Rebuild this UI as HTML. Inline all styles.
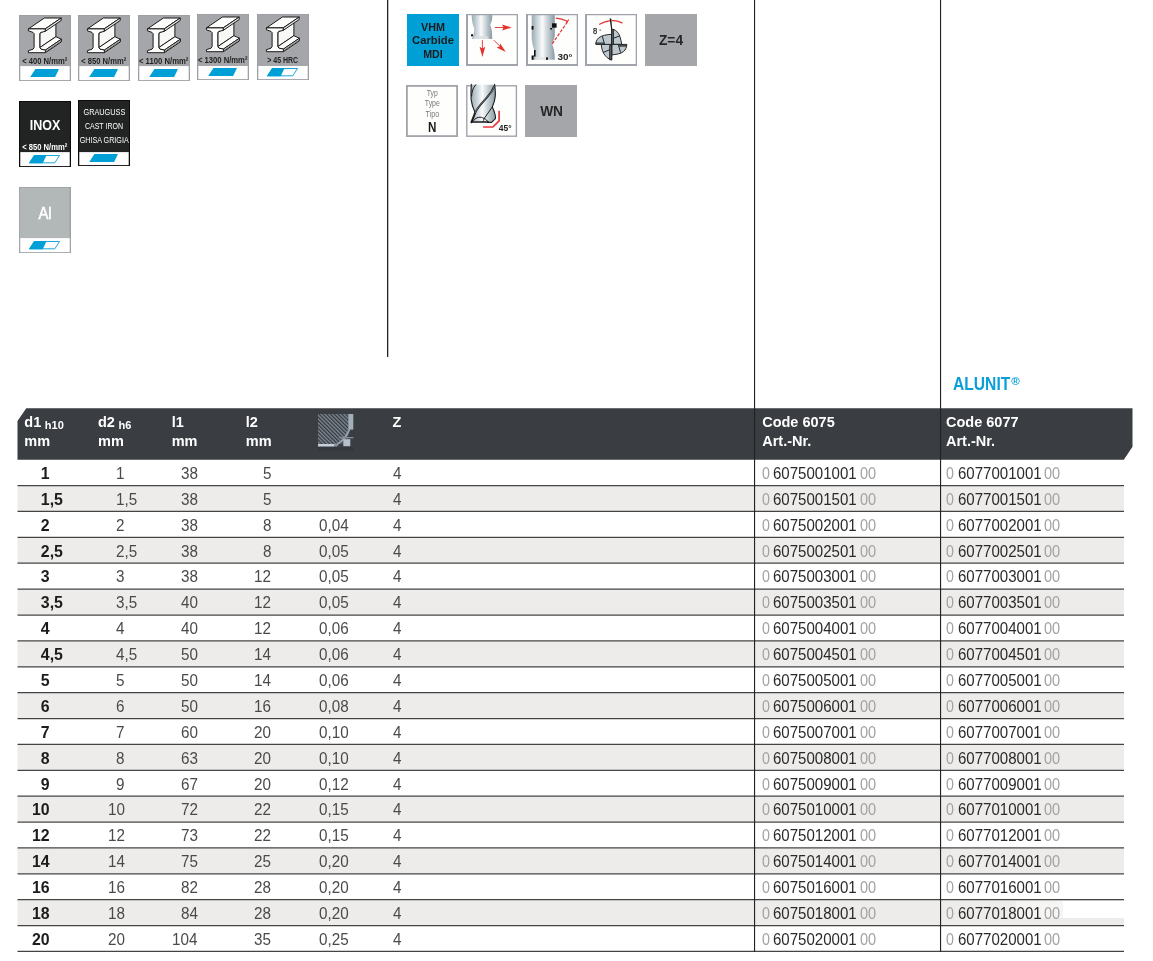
<!DOCTYPE html>
<html lang="de"><head><meta charset="utf-8"><title>Code 6075 / 6077</title>
<style>
html,body{margin:0;padding:0;background:#fff}
body{width:1153px;height:961px;position:relative;overflow:hidden;font-family:"Liberation Sans",sans-serif;color:#222}
.a{position:absolute}
svg{position:absolute;overflow:visible}
svg text{font-family:"Liberation Sans",sans-serif}
.t{position:absolute;white-space:nowrap;transform-origin:0 50%}
.vl{position:absolute;background:#222;width:1.3px}
.row{position:absolute;left:17.6px;width:1106.4px;height:25.88px}
.row.alt{background:#edecea}
.hl{position:absolute;left:17.6px;width:1106.4px;height:1.2px;background:#484848}
.b{font-weight:bold;color:#1c1c1c}
.l{color:#4a4a4a}
.g{color:#a2a2a2}
.k{color:#2a2a2a}
</style></head><body>

<svg width="0" height="0" style="left:0;top:0"><defs>
<linearGradient id="cyl" x1="0" x2="1" y1="0" y2="0">
<stop offset="0" stop-color="#9aabb4"/><stop offset="0.2" stop-color="#c3ced4"/><stop offset="0.46" stop-color="#fafbfb"/><stop offset="0.64" stop-color="#d2dade"/><stop offset="1" stop-color="#889aa3"/>
</linearGradient>
<g id="ibeam" stroke="#1b1b1b" stroke-width="1" stroke-linejoin="round">
<polygon points="20.8,18.6 36.9,7.7 36.9,21.7 20.8,32.6" fill="#f8f8f6"/>
<polygon points="20.8,32.6 36.9,21.7 42.4,24.2 26.4,35.1 22.1,34.2" fill="#fdfdfc"/>
<polygon points="26.4,35.1 42.4,24.2 42.4,26.8 26.4,37.7" fill="#e6e6e4"/>
<line x1="27" y1="36.3" x2="42" y2="26" stroke-width="0.5"/>
<polygon points="9.4,13.9 25.4,3 42.2,3 26.2,13.9" fill="#fdfdfc"/>
<polygon points="26.2,13.9 42.2,3 42.2,5.5 26.2,16.4" fill="#e6e6e4"/>
<polygon points="9.4,13.9 26.2,13.9 26.2,16.4 21.7,17.4 20.8,18.6 20.8,32.6 22.1,34.2 26.4,35.1 26.4,37.7 9.4,37.7 9.4,35.7 14,34.2 15.1,32.6 15.1,18.6 14,17.4 9.4,15.8" fill="#fdfdfc"/>
</g>
</defs></svg>

<svg style="left:19px;top:14.7px" width="52" height="66" viewBox="0 0 52 66">
<rect x="0" y="0" width="52" height="66" fill="#a5a6aa"/>
<rect x="0.3" y="0.3" width="51.4" height="65.4" fill="none" stroke="#9b9da2" stroke-width="0.6"/>
<rect x="1.3" y="51.1" width="49.4" height="14.00" fill="#fefefe"/>
<use href="#ibeam"/>
<text x="25.7" y="48.7" font-size="9" font-weight="bold" fill="#222" text-anchor="middle" textLength="45" lengthAdjust="spacingAndGlyphs">&lt; 400 N/mm²</text>
<polygon points="16.4,54.1 40.0,54.1 36.1,61.9 11.2,61.9" fill="#009fd6"/>
</svg>
<svg style="left:78px;top:14.7px" width="52" height="66" viewBox="0 0 52 66">
<rect x="0" y="0" width="52" height="66" fill="#a5a6aa"/>
<rect x="0.3" y="0.3" width="51.4" height="65.4" fill="none" stroke="#9b9da2" stroke-width="0.6"/>
<rect x="1.3" y="51.1" width="49.4" height="14.00" fill="#fefefe"/>
<use href="#ibeam"/>
<text x="25.7" y="48.7" font-size="9" font-weight="bold" fill="#222" text-anchor="middle" textLength="45" lengthAdjust="spacingAndGlyphs">&lt; 850 N/mm²</text>
<polygon points="16.4,54.1 40.0,54.1 36.1,61.9 11.2,61.9" fill="#009fd6"/>
</svg>
<svg style="left:138px;top:14.7px" width="52" height="66" viewBox="0 0 52 66">
<rect x="0" y="0" width="52" height="66" fill="#a5a6aa"/>
<rect x="0.3" y="0.3" width="51.4" height="65.4" fill="none" stroke="#9b9da2" stroke-width="0.6"/>
<rect x="1.3" y="51.1" width="49.4" height="14.00" fill="#fefefe"/>
<use href="#ibeam"/>
<text x="25.7" y="48.7" font-size="9" font-weight="bold" fill="#222" text-anchor="middle" textLength="49.5" lengthAdjust="spacingAndGlyphs">&lt; 1100 N/mm²</text>
<polygon points="16.4,54.1 40.0,54.1 36.1,61.9 11.2,61.9" fill="#009fd6"/>
</svg>
<svg style="left:197px;top:13.7px" width="52" height="66" viewBox="0 0 52 66">
<rect x="0" y="0" width="52" height="66" fill="#a5a6aa"/>
<rect x="0.3" y="0.3" width="51.4" height="65.4" fill="none" stroke="#9b9da2" stroke-width="0.6"/>
<rect x="1.3" y="52" width="49.4" height="13.10" fill="#fefefe"/>
<use href="#ibeam"/>
<text x="25.7" y="48.7" font-size="9" font-weight="bold" fill="#222" text-anchor="middle" textLength="49.5" lengthAdjust="spacingAndGlyphs">&lt; 1300 N/mm²</text>
<polygon points="16.4,54.1 40.0,54.1 36.1,61.9 11.2,61.9" fill="#009fd6"/>
</svg>
<svg style="left:257px;top:13.7px" width="52" height="66" viewBox="0 0 52 66">
<rect x="0" y="0" width="52" height="66" fill="#a5a6aa"/>
<rect x="0.3" y="0.3" width="51.4" height="65.4" fill="none" stroke="#9b9da2" stroke-width="0.6"/>
<rect x="1.3" y="52" width="49.4" height="13.10" fill="#fefefe"/>
<use href="#ibeam"/>
<text x="25.7" y="48.7" font-size="9" font-weight="bold" fill="#222" text-anchor="middle" textLength="31" lengthAdjust="spacingAndGlyphs">&gt; 45 HRC</text>
<polygon points="15.5,54.5 40.5,54.5 35.800000000000004,61.800000000000004 10.5,61.800000000000004" fill="#fff" stroke="#009fd6" stroke-width="0.9"/><polygon points="15.1,54.1 27.6,54.1 23.7,62.2 9.9,62.2" fill="#009fd6"/>
</svg>
<svg style="left:19px;top:100.7px" width="52" height="66" viewBox="0 0 52 66">
<rect x="0" y="0" width="52" height="66" fill="#222424"/>
<rect x="0.5" y="0.5" width="51.0" height="65.0" fill="none" stroke="#0b0b0b" stroke-width="1.0"/>
<rect x="1.3" y="51.1" width="49.4" height="14.00" fill="#fefefe"/>
<text x="26" y="28.7" font-size="14" font-weight="bold" fill="#fff" text-anchor="middle" textLength="30.5" lengthAdjust="spacingAndGlyphs">INOX</text>
<text x="25.7" y="48.7" font-size="9" font-weight="bold" fill="#fff" text-anchor="middle" textLength="45" lengthAdjust="spacingAndGlyphs">&lt; 850 N/mm²</text>
<polygon points="15.5,54.5 40.5,54.5 35.800000000000004,61.800000000000004 10.5,61.800000000000004" fill="#fff" stroke="#009fd6" stroke-width="0.9"/><polygon points="15.1,54.1 27.6,54.1 23.7,62.2 9.9,62.2" fill="#009fd6"/>
</svg>
<svg style="left:78px;top:99.7px" width="52" height="66" viewBox="0 0 52 66">
<rect x="0" y="0" width="52" height="66" fill="#222424"/>
<rect x="0.5" y="0.5" width="51.0" height="65.0" fill="none" stroke="#0b0b0b" stroke-width="1.0"/>
<rect x="1.3" y="52.1" width="49.4" height="13.00" fill="#fefefe"/>
<text x="26.4" y="15.1" font-size="9.3" fill="#fff" text-anchor="middle" textLength="41.7" lengthAdjust="spacingAndGlyphs">GRAUGUSS</text>
<text x="26" y="28.7" font-size="9.3" fill="#fff" text-anchor="middle" textLength="38.2" lengthAdjust="spacingAndGlyphs">CAST IRON</text>
<text x="26.2" y="42.5" font-size="9.3" fill="#fff" text-anchor="middle" textLength="48.9" lengthAdjust="spacingAndGlyphs">GHISA GRIGIA</text>
<polygon points="16.4,54.1 40.0,54.1 36.1,61.9 11.2,61.9" fill="#009fd6"/>
</svg>
<svg style="left:19px;top:187px" width="52" height="66" viewBox="0 0 52 66">
<rect x="0" y="0" width="52" height="66" fill="#b2b7b7"/>
<rect x="0.3" y="0.3" width="51.4" height="65.4" fill="none" stroke="#9a9da1" stroke-width="0.6"/>
<rect x="50.5" y="0" width="1.5" height="66" fill="#a0a2a6"/>
<rect x="1.3" y="51.1" width="49.4" height="14.00" fill="#fefefe"/>
<text x="26" y="31.6" font-size="16.4" fill="#fff" text-anchor="middle" textLength="13.2" lengthAdjust="spacingAndGlyphs" stroke="#fff" stroke-width="0.55">Al</text>
<polygon points="15.5,54.5 40.5,54.5 35.800000000000004,61.800000000000004 10.5,61.800000000000004" fill="#fff" stroke="#009fd6" stroke-width="0.9"/><polygon points="15.1,54.1 27.6,54.1 23.7,62.2 9.9,62.2" fill="#009fd6"/>
</svg>
<svg style="left:407px;top:13.8px" width="52" height="52" viewBox="0 0 52 52">
<rect width="52" height="52" fill="#009fd6"/>
<text x="26" y="16.5" font-size="11.6" font-weight="bold" fill="#1b1b1b" text-anchor="middle" textLength="23.9" lengthAdjust="spacingAndGlyphs">VHM</text>
<text x="26" y="30" font-size="11.6" font-weight="bold" fill="#1b1b1b" text-anchor="middle" textLength="42" lengthAdjust="spacingAndGlyphs">Carbide</text>
<text x="26" y="43.5" font-size="11.6" font-weight="bold" fill="#1b1b1b" text-anchor="middle" textLength="19.5" lengthAdjust="spacingAndGlyphs">MDI</text>
</svg>
<svg style="left:466px;top:13.8px" width="52" height="52" viewBox="0 0 52 52">
<rect width="52" height="52" fill="#fefefd"/>
<path d="M5.7,0.8 L26.2,0.8 C26.4,5 25.8,8 24.2,10.8 C25.6,14 26.3,19 26.2,25.1 L5.9,25.1 C7.5,20 8.6,17 8.2,14.5 C6.5,10 5.6,5 5.7,0.8 Z" fill="url(#cyl)"/>
<rect x="5" y="20.3" width="2" height="2" fill="#111"/>
<path d="M9,22 h12 l2,3 h-16 z" fill="#d9dfe2" opacity="0.8"/>
<g fill="#e3312b" stroke="#e3312b">
<line x1="28.8" y1="13.5" x2="38" y2="13.5" stroke-width="0.9"/><polygon points="45.8,13.5 36,10.6 37.6,13.5 36,16.6" stroke="none"/>
<line x1="16.4" y1="26.1" x2="16.4" y2="35" stroke-width="0.9"/><polygon points="16.4,43.1 13.6,32.8 16.4,34.6 19.2,32.8" stroke="none"/>
<line x1="27.8" y1="26.1" x2="34" y2="32.3" stroke-width="0.9"/><polygon points="39.8,38.1 30.6,33.6 33.6,32.6 34.2,29.4" stroke="none"/>
</g>
<path d="M0,0 H52 V52 H0 Z M2,1.3 V50 H50.7 V1.3 Z" fill="#a0a3aa" fill-rule="evenodd"/>
</svg>
<svg style="left:526px;top:13.8px" width="52" height="52" viewBox="0 0 52 52">
<rect width="52" height="52" fill="#fefefd"/>
<path d="M5.7,0.8 L28.8,0.8 L28.8,22 C28,26 26.6,28 26.2,30 C27.8,34 28.8,39 28.8,45.8 L6.2,45.8 C7.5,43 8.8,41 9,38.5 C7,33 5.7,28 5.7,22 Z" fill="url(#cyl)"/>
<rect x="5.6" y="12" width="1.9" height="3.6" fill="#111"/>
<rect x="26" y="9.3" width="4.6" height="4.4" fill="#111"/><rect x="24.2" y="14" width="1.8" height="1.6" fill="#111"/>
<path d="M8,36 h1.6 v6.6 h-2 v3.2 h-2 v-4.4 h2.4 z" fill="#111"/><rect x="20" y="43.4" width="2" height="2.4" fill="#111"/>
<path d="M9.5,43 h10 v2.8 h-10 z" fill="#dfe5e8" opacity="0.8"/>
<line x1="26.2" y1="29.8" x2="41.5" y2="7.8" stroke="#e3312b" stroke-width="1.2" stroke-dasharray="3.2 1.5"/>
<path d="M29.8,4.1 Q36,4.6 41.3,7.2" stroke="#e3312b" stroke-width="1.2" fill="none"/><line x1="40.2" y1="8.8" x2="42.8" y2="5.6" stroke="#e3312b" stroke-width="1.1"/>
<text x="31.6" y="45.8" font-size="8.8" font-weight="bold" fill="#222" textLength="15" lengthAdjust="spacingAndGlyphs">30°</text>
<path d="M0,0 H52 V52 H0 Z M2,1.3 V50 H50.7 V1.3 Z" fill="#a0a3aa" fill-rule="evenodd"/>
</svg>
<svg style="left:585px;top:13.8px" width="52" height="52" viewBox="0 0 52 52">
<rect width="52" height="52" fill="#fefefd"/>
<g stroke="#1e1e1e" stroke-width="0.95" stroke-linejoin="round" fill="#bcc8ce">
<path d="M26.7,15.3 C30,15 33.3,18.2 34.8,22.2 C35.9,25.2 36.2,28 36.7,30.4 L26.7,30.4 Z"/>
<path d="M41.8,30.4 C41.9,33 40.6,35.6 38.6,37.5 C35.5,40 31,40.4 26.7,40.9 L26.7,30.4 Z"/>
<path d="M26.7,45.9 C23.5,45.4 20.6,42.6 18.8,39.6 C17.2,36.8 16.6,34 16.2,30.4 L26.7,30.4 Z"/>
<path d="M10.9,30.4 C10.6,28 11.8,25.6 13.8,23.8 C17,21.2 22,20.6 26.7,20.3 L26.7,30.4 Z"/>
<path d="M28.5,24.3 L34.6,21.9 M33.8,32.1 L35.5,38.6 M18,38.5 L24.6,35.8 M17.3,22.1 L19.4,29.8" fill="none"/>
<rect x="26.7" y="15.4" width="1.7" height="15" fill="#5d6b74"/>
<rect x="24.7" y="31.6" width="2" height="14.2" fill="#5d6b74"/>
<path d="M11,28.9 L19.1,28.9 L19.1,30.4 L11,30.4 Z M33.5,30.8 L41.6,30.8 L41.4,32.2 L33.5,32.2 Z" fill="#5d6b74" stroke-width="0.7"/>
</g>
<path d="M24.6,4.6 L26.3,4.6 L27.2,15.6 L26.2,15.6 Z" fill="#151515"/>
<path d="M14.6,10.2 Q20,7.4 24.6,6.9 M27.2,6.7 Q32.5,6.6 37,8.9" stroke="#e3312b" stroke-width="1.2" fill="none" stroke-linecap="round"/>
<text x="7.9" y="20" font-size="8.6" fill="#222" stroke="#222" stroke-width="0.25" textLength="4.2" lengthAdjust="spacingAndGlyphs">8</text><text x="13.9" y="18.6" font-size="6" fill="#444">°</text>
<path d="M0,0 H52 V52 H0 Z M2,1.3 V50 H50.7 V1.3 Z" fill="#a0a3aa" fill-rule="evenodd"/>
</svg>
<svg style="left:645px;top:13.8px" width="52" height="52" viewBox="0 0 52 52">
<rect width="52" height="52" fill="#a5a6aa"/>
<text x="26" y="30.9" font-size="15" font-weight="bold" fill="#262626" text-anchor="middle" textLength="24" lengthAdjust="spacingAndGlyphs">Z=4</text>
</svg>
<svg style="left:406px;top:85px" width="52" height="52" viewBox="0 0 52 52">
<rect width="52" height="52" fill="#fefefd"/>
<text x="26.3" y="10.6" font-size="8.4" fill="#777" text-anchor="middle" textLength="11" lengthAdjust="spacingAndGlyphs">Typ</text>
<text x="26.3" y="21.2" font-size="8.4" fill="#777" text-anchor="middle" textLength="15" lengthAdjust="spacingAndGlyphs">Type</text>
<text x="26.3" y="32" font-size="8.4" fill="#777" text-anchor="middle" textLength="13.6" lengthAdjust="spacingAndGlyphs">Tipo</text>
<text x="26.3" y="47" font-size="14.8" font-weight="bold" fill="#1b1b1b" text-anchor="middle" textLength="8.4" lengthAdjust="spacingAndGlyphs">N</text>
<rect x="0.9" y="0.9" width="50.2" height="50.2" fill="none" stroke="#a0a3aa" stroke-width="1.8"/>
</svg>
<svg style="left:466px;top:85px" width="51" height="52" viewBox="0 0 51 52">
<rect width="51" height="52" fill="#fefefd"/>
<rect x="0.8" y="0.8" width="49.6" height="50.4" fill="none" stroke="#a0a3aa" stroke-width="1.4"/>
<path d="M5.3,-0.2 L28.6,-0.2 C29.2,4 29.6,8 29.3,11 C29,16 27.6,19 26.3,21.9 C27.4,24 28.6,27 29.2,30 C29.6,32 29.6,33 29.4,33.6 L25.6,37.4 L5.3,37.4 L9.2,27.7 C7.2,23.5 5.6,19 5.1,14.4 C4.8,9 5,4 5.3,-0.2 Z" fill="url(#cyl)"/>
<g fill="none" stroke="#1c1c1c" stroke-linecap="round" stroke-linejoin="round">
<path d="M5.3,-0.7 C5,4 4.8,9 5.1,14.4 C5.6,19 7.2,23.5 9.2,27.7" stroke-width="1.1"/>
<path d="M9.2,27.7 L5.5,37.2" stroke-width="2"/>
<path d="M28.6,-0.7 C29.2,4 29.6,8 29.3,11 C29,16 27.6,19 26.3,21.9 C27.4,24 28.6,27 29.2,30 C29.6,32 29.6,33 29.4,33.6 L25.6,37.4 L21.5,37.4" stroke-width="1.1"/>
<path d="M28.2,1.4 C26.5,6 24,9 21.6,11.6 C19,14.6 16.5,17.4 14.4,19.8 C12,22.6 10.2,25.4 9.2,27.7" stroke-width="1.9"/>
<path d="M28.2,1.4 C26.5,6 24,9 21.6,11.6 C19,14.6 16.5,17.4 14.4,19.8 C12,22.6 10.2,25.4 9.2,27.7" stroke-width="0.7" stroke="#8b979d" stroke-dasharray="0.5 0.7"/>
<path d="M26.3,21.9 C23.6,26 20.6,30 18.1,33.6" stroke-width="1"/>
<path d="M9.8,-0.3 C8.2,1.6 7,3.6 6.4,6 C5.9,8 5.7,9.6 5.6,11" stroke-width="1"/>
<path d="M7.4,35.6 C9,33.4 11.6,32.2 14,32.2 C16.2,32.3 17.4,33 18.1,33.6 C20,34.2 21.4,35.6 22.2,37.2" stroke-width="1"/>
<path d="M17.8,33.8 C17.8,35 17.4,36.2 16.8,37" stroke-width="0.8"/>
<path d="M5.3,37.1 L22.2,37.1" stroke-width="1.5"/>
</g>
<path d="M17.1,42 L26.9,42 L33.1,35.8 L33.1,25.8" stroke="#e8383a" stroke-width="1.7" fill="none"/>
<text x="32.8" y="45.7" font-size="8.6" font-weight="bold" fill="#222" textLength="12.8" lengthAdjust="spacingAndGlyphs">45°</text>
</svg>
<svg style="left:525px;top:85px" width="52" height="52" viewBox="0 0 52 52">
<rect width="52" height="52" fill="#a5a6aa"/>
<text x="26.6" y="30.8" font-size="15" font-weight="bold" fill="#262626" text-anchor="middle" textLength="22.9" lengthAdjust="spacingAndGlyphs">WN</text>
</svg>
<svg style="left:0;top:0" width="1153" height="961"><text x="953" y="389.7" font-size="19" font-weight="bold" fill="#0a9fd8" textLength="57.3" lengthAdjust="spacingAndGlyphs">ALUNIT</text><text x="1011.2" y="385.2" font-size="11.5" font-weight="bold" fill="#0a9fd8">®</text></svg>
<svg style="left:0;top:0" width="1153" height="470" viewBox="0 0 1153 470"><polygon points="26.3,408.3 1132.5,408.3 1132.5,446.8 1123.8,459.8 17.5,459.8 17.5,420.9" fill="#3a3d42"/></svg>
<span class="t " style="top:414px;font-size:14.5px;line-height:16px;height:16px;left:24.30px;color:#fff;font-weight:bold;">d1</span>
<span class="t " style="top:419px;font-size:11px;line-height:12px;height:12px;left:44.80px;color:#fff;font-weight:bold;">h10</span>
<span class="t " style="top:433px;font-size:14.5px;line-height:16px;height:16px;left:24.30px;color:#fff;font-weight:bold;">mm</span>
<span class="t " style="top:414px;font-size:14.5px;line-height:16px;height:16px;left:98.00px;color:#fff;font-weight:bold;">d2</span>
<span class="t " style="top:419px;font-size:11px;line-height:12px;height:12px;left:118.50px;color:#fff;font-weight:bold;">h6</span>
<span class="t " style="top:433px;font-size:14.5px;line-height:16px;height:16px;left:98.00px;color:#fff;font-weight:bold;">mm</span>
<span class="t " style="top:414px;font-size:14.5px;line-height:16px;height:16px;left:171.70px;color:#fff;font-weight:bold;">l1</span>
<span class="t " style="top:433px;font-size:14.5px;line-height:16px;height:16px;left:171.70px;color:#fff;font-weight:bold;">mm</span>
<span class="t " style="top:414px;font-size:14.5px;line-height:16px;height:16px;left:245.80px;color:#fff;font-weight:bold;">l2</span>
<span class="t " style="top:433px;font-size:14.5px;line-height:16px;height:16px;left:245.80px;color:#fff;font-weight:bold;">mm</span>
<span class="t " style="top:414px;font-size:14.5px;line-height:16px;height:16px;left:392.50px;color:#fff;font-weight:bold;">Z</span>
<span class="t " style="top:414px;font-size:14.5px;line-height:16px;height:16px;left:762.20px;color:#fff;font-weight:bold;">Code 6075</span>
<span class="t " style="top:433px;font-size:14.5px;line-height:16px;height:16px;left:762.20px;color:#fff;font-weight:bold;">Art.-Nr.</span>
<span class="t " style="top:414px;font-size:14.5px;line-height:16px;height:16px;left:946.00px;color:#fff;font-weight:bold;">Code 6077</span>
<span class="t " style="top:433px;font-size:14.5px;line-height:16px;height:16px;left:946.00px;color:#fff;font-weight:bold;">Art.-Nr.</span>
<svg style="left:317.8px;top:413.7px" width="37" height="37" viewBox="0 0 37 37">
<defs><pattern id="hat" width="2.7" height="2.7" patternUnits="userSpaceOnUse" patternTransform="rotate(45)"><rect width="2.7" height="2.7" fill="#33363a"/><rect width="2.7" height="1.45" fill="#7d8793"/></pattern></defs>
<path d="M0,0 L30.4,0 L30.4,15 C29,20 25,26 18,30 L0,30 Z" fill="url(#hat)"/>
<path d="M30.4,15 C29,20 25,26 18,30 L30.4,30 Z" fill="#4a4e55"/>
<rect x="30.3" y="0" width="5" height="15.6" fill="#a3aebb"/>
<path d="M31.5,15 C29.5,21 25.5,26.5 19,30.5" stroke="#98a3b0" stroke-width="2" fill="none"/>
<rect x="0" y="30" width="16.5" height="2.5" fill="#c5d0da"/>
<rect x="16.5" y="30" width="3" height="2.5" fill="#8e98a4"/>
<path d="M21,23.7 H35.5" stroke="#868f9a" stroke-width="1.3"/>
<rect x="25.3" y="25.2" width="7" height="7" fill="#b7bfca"/>
<rect x="0" y="33" width="36" height="3.4" fill="#30333a" opacity="0.5"/>
</svg>
<svg style="left:0;top:0" width="1153" height="961" viewBox="0 0 1153 961">
<rect x="17.5" y="485.68" width="1106.5" height="25.88" fill="#edecea"/>
<rect x="17.5" y="537.44" width="1106.5" height="25.88" fill="#edecea"/>
<rect x="17.5" y="589.20" width="1106.5" height="25.88" fill="#edecea"/>
<rect x="17.5" y="640.96" width="1106.5" height="25.88" fill="#edecea"/>
<rect x="17.5" y="692.72" width="1106.5" height="25.88" fill="#edecea"/>
<rect x="17.5" y="744.48" width="1106.5" height="25.88" fill="#edecea"/>
<rect x="17.5" y="796.24" width="1106.5" height="25.88" fill="#edecea"/>
<rect x="17.5" y="848.00" width="1106.5" height="25.88" fill="#edecea"/>
<rect x="17.5" y="899.76" width="1106.5" height="25.88" fill="#edecea"/>
<rect x="1062.7" y="901" width="61.3" height="17" fill="#fff"/><rect x="1016" y="901" width="46.7" height="17" fill="#f6f5f4"/>
<line x1="17.5" x2="1124" y1="485.60" y2="485.60" stroke="#444" stroke-width="1.25"/>
<line x1="17.5" x2="1124" y1="511.48" y2="511.48" stroke="#444" stroke-width="1.25"/>
<line x1="17.5" x2="1124" y1="537.36" y2="537.36" stroke="#444" stroke-width="1.25"/>
<line x1="17.5" x2="1124" y1="563.24" y2="563.24" stroke="#444" stroke-width="1.25"/>
<line x1="17.5" x2="1124" y1="589.12" y2="589.12" stroke="#444" stroke-width="1.25"/>
<line x1="17.5" x2="1124" y1="615.00" y2="615.00" stroke="#444" stroke-width="1.25"/>
<line x1="17.5" x2="1124" y1="640.88" y2="640.88" stroke="#444" stroke-width="1.25"/>
<line x1="17.5" x2="1124" y1="666.76" y2="666.76" stroke="#444" stroke-width="1.25"/>
<line x1="17.5" x2="1124" y1="692.64" y2="692.64" stroke="#444" stroke-width="1.25"/>
<line x1="17.5" x2="1124" y1="718.52" y2="718.52" stroke="#444" stroke-width="1.25"/>
<line x1="17.5" x2="1124" y1="744.40" y2="744.40" stroke="#444" stroke-width="1.25"/>
<line x1="17.5" x2="1124" y1="770.28" y2="770.28" stroke="#444" stroke-width="1.25"/>
<line x1="17.5" x2="1124" y1="796.16" y2="796.16" stroke="#444" stroke-width="1.25"/>
<line x1="17.5" x2="1124" y1="822.04" y2="822.04" stroke="#444" stroke-width="1.25"/>
<line x1="17.5" x2="1124" y1="847.92" y2="847.92" stroke="#444" stroke-width="1.25"/>
<line x1="17.5" x2="1124" y1="873.80" y2="873.80" stroke="#444" stroke-width="1.25"/>
<line x1="17.5" x2="1124" y1="899.68" y2="899.68" stroke="#444" stroke-width="1.25"/>
<line x1="17.5" x2="1124" y1="925.56" y2="925.56" stroke="#444" stroke-width="1.25"/>
<line x1="17.5" x2="1124" y1="951.44" y2="951.44" stroke="#444" stroke-width="1.25"/>
</svg>
<span class="t b" style="top:465px;font-size:15.9px;line-height:17px;height:17px;left:40.86px;">1</span>
<span class="t l" style="top:464px;font-size:16.4px;line-height:18px;height:18px;left:116.12px;transform:scaleX(0.93);">1</span>
<span class="t l" style="top:464px;font-size:16.4px;line-height:18px;height:18px;left:180.93px;transform:scaleX(0.93);">38</span>
<span class="t l" style="top:464px;font-size:16.4px;line-height:18px;height:18px;left:262.82px;transform:scaleX(0.93);">5</span>
<span class="t l" style="top:464px;font-size:16.4px;line-height:18px;height:18px;left:393.00px;transform:scaleX(0.93);">4</span>
<span class="t g" style="top:464px;font-size:16.4px;line-height:18px;height:18px;left:761.60px;transform:scaleX(0.87);">0</span>
<span class="t k" style="top:464px;font-size:16.4px;line-height:18px;height:18px;left:773.00px;transform:scaleX(0.918);">6075001001</span>
<span class="t g" style="top:464px;font-size:16.4px;line-height:18px;height:18px;left:859.60px;transform:scaleX(0.89);">00</span>
<span class="t g" style="top:464px;font-size:16.4px;line-height:18px;height:18px;left:946.40px;transform:scaleX(0.87);">0</span>
<span class="t k" style="top:464px;font-size:16.4px;line-height:18px;height:18px;left:957.50px;transform:scaleX(0.918);">6077001001</span>
<span class="t g" style="top:464px;font-size:16.4px;line-height:18px;height:18px;left:1044.10px;transform:scaleX(0.89);">00</span>
<span class="t b" style="top:491px;font-size:15.9px;line-height:17px;height:17px;left:40.86px;">1,5</span>
<span class="t l" style="top:490px;font-size:16.4px;line-height:18px;height:18px;left:116.12px;transform:scaleX(0.93);">1,5</span>
<span class="t l" style="top:490px;font-size:16.4px;line-height:18px;height:18px;left:180.93px;transform:scaleX(0.93);">38</span>
<span class="t l" style="top:490px;font-size:16.4px;line-height:18px;height:18px;left:262.82px;transform:scaleX(0.93);">5</span>
<span class="t l" style="top:490px;font-size:16.4px;line-height:18px;height:18px;left:393.00px;transform:scaleX(0.93);">4</span>
<span class="t g" style="top:490px;font-size:16.4px;line-height:18px;height:18px;left:761.60px;transform:scaleX(0.87);">0</span>
<span class="t k" style="top:490px;font-size:16.4px;line-height:18px;height:18px;left:773.00px;transform:scaleX(0.918);">6075001501</span>
<span class="t g" style="top:490px;font-size:16.4px;line-height:18px;height:18px;left:859.60px;transform:scaleX(0.89);">00</span>
<span class="t g" style="top:490px;font-size:16.4px;line-height:18px;height:18px;left:946.40px;transform:scaleX(0.87);">0</span>
<span class="t k" style="top:490px;font-size:16.4px;line-height:18px;height:18px;left:957.50px;transform:scaleX(0.918);">6077001501</span>
<span class="t g" style="top:490px;font-size:16.4px;line-height:18px;height:18px;left:1044.10px;transform:scaleX(0.89);">00</span>
<span class="t b" style="top:517px;font-size:15.9px;line-height:17px;height:17px;left:40.86px;">2</span>
<span class="t l" style="top:516px;font-size:16.4px;line-height:18px;height:18px;left:116.12px;transform:scaleX(0.93);">2</span>
<span class="t l" style="top:516px;font-size:16.4px;line-height:18px;height:18px;left:180.93px;transform:scaleX(0.93);">38</span>
<span class="t l" style="top:516px;font-size:16.4px;line-height:18px;height:18px;left:262.82px;transform:scaleX(0.93);">8</span>
<span class="t l" style="top:516px;font-size:16.4px;line-height:18px;height:18px;left:319.00px;transform:scaleX(0.93);">0,04</span>
<span class="t l" style="top:516px;font-size:16.4px;line-height:18px;height:18px;left:393.00px;transform:scaleX(0.93);">4</span>
<span class="t g" style="top:516px;font-size:16.4px;line-height:18px;height:18px;left:761.60px;transform:scaleX(0.87);">0</span>
<span class="t k" style="top:516px;font-size:16.4px;line-height:18px;height:18px;left:773.00px;transform:scaleX(0.918);">6075002001</span>
<span class="t g" style="top:516px;font-size:16.4px;line-height:18px;height:18px;left:859.60px;transform:scaleX(0.89);">00</span>
<span class="t g" style="top:516px;font-size:16.4px;line-height:18px;height:18px;left:946.40px;transform:scaleX(0.87);">0</span>
<span class="t k" style="top:516px;font-size:16.4px;line-height:18px;height:18px;left:957.50px;transform:scaleX(0.918);">6077002001</span>
<span class="t g" style="top:516px;font-size:16.4px;line-height:18px;height:18px;left:1044.10px;transform:scaleX(0.89);">00</span>
<span class="t b" style="top:543px;font-size:15.9px;line-height:17px;height:17px;left:40.86px;">2,5</span>
<span class="t l" style="top:542px;font-size:16.4px;line-height:18px;height:18px;left:116.12px;transform:scaleX(0.93);">2,5</span>
<span class="t l" style="top:542px;font-size:16.4px;line-height:18px;height:18px;left:180.93px;transform:scaleX(0.93);">38</span>
<span class="t l" style="top:542px;font-size:16.4px;line-height:18px;height:18px;left:262.82px;transform:scaleX(0.93);">8</span>
<span class="t l" style="top:542px;font-size:16.4px;line-height:18px;height:18px;left:319.00px;transform:scaleX(0.93);">0,05</span>
<span class="t l" style="top:542px;font-size:16.4px;line-height:18px;height:18px;left:393.00px;transform:scaleX(0.93);">4</span>
<span class="t g" style="top:542px;font-size:16.4px;line-height:18px;height:18px;left:761.60px;transform:scaleX(0.87);">0</span>
<span class="t k" style="top:542px;font-size:16.4px;line-height:18px;height:18px;left:773.00px;transform:scaleX(0.918);">6075002501</span>
<span class="t g" style="top:542px;font-size:16.4px;line-height:18px;height:18px;left:859.60px;transform:scaleX(0.89);">00</span>
<span class="t g" style="top:542px;font-size:16.4px;line-height:18px;height:18px;left:946.40px;transform:scaleX(0.87);">0</span>
<span class="t k" style="top:542px;font-size:16.4px;line-height:18px;height:18px;left:957.50px;transform:scaleX(0.918);">6077002501</span>
<span class="t g" style="top:542px;font-size:16.4px;line-height:18px;height:18px;left:1044.10px;transform:scaleX(0.89);">00</span>
<span class="t b" style="top:568px;font-size:15.9px;line-height:17px;height:17px;left:40.86px;">3</span>
<span class="t l" style="top:567px;font-size:16.4px;line-height:18px;height:18px;left:116.12px;transform:scaleX(0.93);">3</span>
<span class="t l" style="top:567px;font-size:16.4px;line-height:18px;height:18px;left:180.93px;transform:scaleX(0.93);">38</span>
<span class="t l" style="top:567px;font-size:16.4px;line-height:18px;height:18px;left:254.33px;transform:scaleX(0.93);">12</span>
<span class="t l" style="top:567px;font-size:16.4px;line-height:18px;height:18px;left:319.00px;transform:scaleX(0.93);">0,05</span>
<span class="t l" style="top:567px;font-size:16.4px;line-height:18px;height:18px;left:393.00px;transform:scaleX(0.93);">4</span>
<span class="t g" style="top:567px;font-size:16.4px;line-height:18px;height:18px;left:761.60px;transform:scaleX(0.87);">0</span>
<span class="t k" style="top:567px;font-size:16.4px;line-height:18px;height:18px;left:773.00px;transform:scaleX(0.918);">6075003001</span>
<span class="t g" style="top:567px;font-size:16.4px;line-height:18px;height:18px;left:859.60px;transform:scaleX(0.89);">00</span>
<span class="t g" style="top:567px;font-size:16.4px;line-height:18px;height:18px;left:946.40px;transform:scaleX(0.87);">0</span>
<span class="t k" style="top:567px;font-size:16.4px;line-height:18px;height:18px;left:957.50px;transform:scaleX(0.918);">6077003001</span>
<span class="t g" style="top:567px;font-size:16.4px;line-height:18px;height:18px;left:1044.10px;transform:scaleX(0.89);">00</span>
<span class="t b" style="top:594px;font-size:15.9px;line-height:17px;height:17px;left:40.86px;">3,5</span>
<span class="t l" style="top:593px;font-size:16.4px;line-height:18px;height:18px;left:116.12px;transform:scaleX(0.93);">3,5</span>
<span class="t l" style="top:593px;font-size:16.4px;line-height:18px;height:18px;left:180.93px;transform:scaleX(0.93);">40</span>
<span class="t l" style="top:593px;font-size:16.4px;line-height:18px;height:18px;left:254.33px;transform:scaleX(0.93);">12</span>
<span class="t l" style="top:593px;font-size:16.4px;line-height:18px;height:18px;left:319.00px;transform:scaleX(0.93);">0,05</span>
<span class="t l" style="top:593px;font-size:16.4px;line-height:18px;height:18px;left:393.00px;transform:scaleX(0.93);">4</span>
<span class="t g" style="top:593px;font-size:16.4px;line-height:18px;height:18px;left:761.60px;transform:scaleX(0.87);">0</span>
<span class="t k" style="top:593px;font-size:16.4px;line-height:18px;height:18px;left:773.00px;transform:scaleX(0.918);">6075003501</span>
<span class="t g" style="top:593px;font-size:16.4px;line-height:18px;height:18px;left:859.60px;transform:scaleX(0.89);">00</span>
<span class="t g" style="top:593px;font-size:16.4px;line-height:18px;height:18px;left:946.40px;transform:scaleX(0.87);">0</span>
<span class="t k" style="top:593px;font-size:16.4px;line-height:18px;height:18px;left:957.50px;transform:scaleX(0.918);">6077003501</span>
<span class="t g" style="top:593px;font-size:16.4px;line-height:18px;height:18px;left:1044.10px;transform:scaleX(0.89);">00</span>
<span class="t b" style="top:620px;font-size:15.9px;line-height:17px;height:17px;left:40.86px;">4</span>
<span class="t l" style="top:619px;font-size:16.4px;line-height:18px;height:18px;left:116.12px;transform:scaleX(0.93);">4</span>
<span class="t l" style="top:619px;font-size:16.4px;line-height:18px;height:18px;left:180.93px;transform:scaleX(0.93);">40</span>
<span class="t l" style="top:619px;font-size:16.4px;line-height:18px;height:18px;left:254.33px;transform:scaleX(0.93);">12</span>
<span class="t l" style="top:619px;font-size:16.4px;line-height:18px;height:18px;left:319.00px;transform:scaleX(0.93);">0,06</span>
<span class="t l" style="top:619px;font-size:16.4px;line-height:18px;height:18px;left:393.00px;transform:scaleX(0.93);">4</span>
<span class="t g" style="top:619px;font-size:16.4px;line-height:18px;height:18px;left:761.60px;transform:scaleX(0.87);">0</span>
<span class="t k" style="top:619px;font-size:16.4px;line-height:18px;height:18px;left:773.00px;transform:scaleX(0.918);">6075004001</span>
<span class="t g" style="top:619px;font-size:16.4px;line-height:18px;height:18px;left:859.60px;transform:scaleX(0.89);">00</span>
<span class="t g" style="top:619px;font-size:16.4px;line-height:18px;height:18px;left:946.40px;transform:scaleX(0.87);">0</span>
<span class="t k" style="top:619px;font-size:16.4px;line-height:18px;height:18px;left:957.50px;transform:scaleX(0.918);">6077004001</span>
<span class="t g" style="top:619px;font-size:16.4px;line-height:18px;height:18px;left:1044.10px;transform:scaleX(0.89);">00</span>
<span class="t b" style="top:646px;font-size:15.9px;line-height:17px;height:17px;left:40.86px;">4,5</span>
<span class="t l" style="top:645px;font-size:16.4px;line-height:18px;height:18px;left:116.12px;transform:scaleX(0.93);">4,5</span>
<span class="t l" style="top:645px;font-size:16.4px;line-height:18px;height:18px;left:180.93px;transform:scaleX(0.93);">50</span>
<span class="t l" style="top:645px;font-size:16.4px;line-height:18px;height:18px;left:254.33px;transform:scaleX(0.93);">14</span>
<span class="t l" style="top:645px;font-size:16.4px;line-height:18px;height:18px;left:319.00px;transform:scaleX(0.93);">0,06</span>
<span class="t l" style="top:645px;font-size:16.4px;line-height:18px;height:18px;left:393.00px;transform:scaleX(0.93);">4</span>
<span class="t g" style="top:645px;font-size:16.4px;line-height:18px;height:18px;left:761.60px;transform:scaleX(0.87);">0</span>
<span class="t k" style="top:645px;font-size:16.4px;line-height:18px;height:18px;left:773.00px;transform:scaleX(0.918);">6075004501</span>
<span class="t g" style="top:645px;font-size:16.4px;line-height:18px;height:18px;left:859.60px;transform:scaleX(0.89);">00</span>
<span class="t g" style="top:645px;font-size:16.4px;line-height:18px;height:18px;left:946.40px;transform:scaleX(0.87);">0</span>
<span class="t k" style="top:645px;font-size:16.4px;line-height:18px;height:18px;left:957.50px;transform:scaleX(0.918);">6077004501</span>
<span class="t g" style="top:645px;font-size:16.4px;line-height:18px;height:18px;left:1044.10px;transform:scaleX(0.89);">00</span>
<span class="t b" style="top:672px;font-size:15.9px;line-height:17px;height:17px;left:40.86px;">5</span>
<span class="t l" style="top:671px;font-size:16.4px;line-height:18px;height:18px;left:116.12px;transform:scaleX(0.93);">5</span>
<span class="t l" style="top:671px;font-size:16.4px;line-height:18px;height:18px;left:180.93px;transform:scaleX(0.93);">50</span>
<span class="t l" style="top:671px;font-size:16.4px;line-height:18px;height:18px;left:254.33px;transform:scaleX(0.93);">14</span>
<span class="t l" style="top:671px;font-size:16.4px;line-height:18px;height:18px;left:319.00px;transform:scaleX(0.93);">0,06</span>
<span class="t l" style="top:671px;font-size:16.4px;line-height:18px;height:18px;left:393.00px;transform:scaleX(0.93);">4</span>
<span class="t g" style="top:671px;font-size:16.4px;line-height:18px;height:18px;left:761.60px;transform:scaleX(0.87);">0</span>
<span class="t k" style="top:671px;font-size:16.4px;line-height:18px;height:18px;left:773.00px;transform:scaleX(0.918);">6075005001</span>
<span class="t g" style="top:671px;font-size:16.4px;line-height:18px;height:18px;left:859.60px;transform:scaleX(0.89);">00</span>
<span class="t g" style="top:671px;font-size:16.4px;line-height:18px;height:18px;left:946.40px;transform:scaleX(0.87);">0</span>
<span class="t k" style="top:671px;font-size:16.4px;line-height:18px;height:18px;left:957.50px;transform:scaleX(0.918);">6077005001</span>
<span class="t g" style="top:671px;font-size:16.4px;line-height:18px;height:18px;left:1044.10px;transform:scaleX(0.89);">00</span>
<span class="t b" style="top:698px;font-size:15.9px;line-height:17px;height:17px;left:40.86px;">6</span>
<span class="t l" style="top:697px;font-size:16.4px;line-height:18px;height:18px;left:116.12px;transform:scaleX(0.93);">6</span>
<span class="t l" style="top:697px;font-size:16.4px;line-height:18px;height:18px;left:180.93px;transform:scaleX(0.93);">50</span>
<span class="t l" style="top:697px;font-size:16.4px;line-height:18px;height:18px;left:254.33px;transform:scaleX(0.93);">16</span>
<span class="t l" style="top:697px;font-size:16.4px;line-height:18px;height:18px;left:319.00px;transform:scaleX(0.93);">0,08</span>
<span class="t l" style="top:697px;font-size:16.4px;line-height:18px;height:18px;left:393.00px;transform:scaleX(0.93);">4</span>
<span class="t g" style="top:697px;font-size:16.4px;line-height:18px;height:18px;left:761.60px;transform:scaleX(0.87);">0</span>
<span class="t k" style="top:697px;font-size:16.4px;line-height:18px;height:18px;left:773.00px;transform:scaleX(0.918);">6075006001</span>
<span class="t g" style="top:697px;font-size:16.4px;line-height:18px;height:18px;left:859.60px;transform:scaleX(0.89);">00</span>
<span class="t g" style="top:697px;font-size:16.4px;line-height:18px;height:18px;left:946.40px;transform:scaleX(0.87);">0</span>
<span class="t k" style="top:697px;font-size:16.4px;line-height:18px;height:18px;left:957.50px;transform:scaleX(0.918);">6077006001</span>
<span class="t g" style="top:697px;font-size:16.4px;line-height:18px;height:18px;left:1044.10px;transform:scaleX(0.89);">00</span>
<span class="t b" style="top:724px;font-size:15.9px;line-height:17px;height:17px;left:40.86px;">7</span>
<span class="t l" style="top:723px;font-size:16.4px;line-height:18px;height:18px;left:116.12px;transform:scaleX(0.93);">7</span>
<span class="t l" style="top:723px;font-size:16.4px;line-height:18px;height:18px;left:180.93px;transform:scaleX(0.93);">60</span>
<span class="t l" style="top:723px;font-size:16.4px;line-height:18px;height:18px;left:254.33px;transform:scaleX(0.93);">20</span>
<span class="t l" style="top:723px;font-size:16.4px;line-height:18px;height:18px;left:319.00px;transform:scaleX(0.93);">0,10</span>
<span class="t l" style="top:723px;font-size:16.4px;line-height:18px;height:18px;left:393.00px;transform:scaleX(0.93);">4</span>
<span class="t g" style="top:723px;font-size:16.4px;line-height:18px;height:18px;left:761.60px;transform:scaleX(0.87);">0</span>
<span class="t k" style="top:723px;font-size:16.4px;line-height:18px;height:18px;left:773.00px;transform:scaleX(0.918);">6075007001</span>
<span class="t g" style="top:723px;font-size:16.4px;line-height:18px;height:18px;left:859.60px;transform:scaleX(0.89);">00</span>
<span class="t g" style="top:723px;font-size:16.4px;line-height:18px;height:18px;left:946.40px;transform:scaleX(0.87);">0</span>
<span class="t k" style="top:723px;font-size:16.4px;line-height:18px;height:18px;left:957.50px;transform:scaleX(0.918);">6077007001</span>
<span class="t g" style="top:723px;font-size:16.4px;line-height:18px;height:18px;left:1044.10px;transform:scaleX(0.89);">00</span>
<span class="t b" style="top:750px;font-size:15.9px;line-height:17px;height:17px;left:40.86px;">8</span>
<span class="t l" style="top:749px;font-size:16.4px;line-height:18px;height:18px;left:116.12px;transform:scaleX(0.93);">8</span>
<span class="t l" style="top:749px;font-size:16.4px;line-height:18px;height:18px;left:180.93px;transform:scaleX(0.93);">63</span>
<span class="t l" style="top:749px;font-size:16.4px;line-height:18px;height:18px;left:254.33px;transform:scaleX(0.93);">20</span>
<span class="t l" style="top:749px;font-size:16.4px;line-height:18px;height:18px;left:319.00px;transform:scaleX(0.93);">0,10</span>
<span class="t l" style="top:749px;font-size:16.4px;line-height:18px;height:18px;left:393.00px;transform:scaleX(0.93);">4</span>
<span class="t g" style="top:749px;font-size:16.4px;line-height:18px;height:18px;left:761.60px;transform:scaleX(0.87);">0</span>
<span class="t k" style="top:749px;font-size:16.4px;line-height:18px;height:18px;left:773.00px;transform:scaleX(0.918);">6075008001</span>
<span class="t g" style="top:749px;font-size:16.4px;line-height:18px;height:18px;left:859.60px;transform:scaleX(0.89);">00</span>
<span class="t g" style="top:749px;font-size:16.4px;line-height:18px;height:18px;left:946.40px;transform:scaleX(0.87);">0</span>
<span class="t k" style="top:749px;font-size:16.4px;line-height:18px;height:18px;left:957.50px;transform:scaleX(0.918);">6077008001</span>
<span class="t g" style="top:749px;font-size:16.4px;line-height:18px;height:18px;left:1044.10px;transform:scaleX(0.89);">00</span>
<span class="t b" style="top:776px;font-size:15.9px;line-height:17px;height:17px;left:40.86px;">9</span>
<span class="t l" style="top:775px;font-size:16.4px;line-height:18px;height:18px;left:116.12px;transform:scaleX(0.93);">9</span>
<span class="t l" style="top:775px;font-size:16.4px;line-height:18px;height:18px;left:180.93px;transform:scaleX(0.93);">67</span>
<span class="t l" style="top:775px;font-size:16.4px;line-height:18px;height:18px;left:254.33px;transform:scaleX(0.93);">20</span>
<span class="t l" style="top:775px;font-size:16.4px;line-height:18px;height:18px;left:319.00px;transform:scaleX(0.93);">0,12</span>
<span class="t l" style="top:775px;font-size:16.4px;line-height:18px;height:18px;left:393.00px;transform:scaleX(0.93);">4</span>
<span class="t g" style="top:775px;font-size:16.4px;line-height:18px;height:18px;left:761.60px;transform:scaleX(0.87);">0</span>
<span class="t k" style="top:775px;font-size:16.4px;line-height:18px;height:18px;left:773.00px;transform:scaleX(0.918);">6075009001</span>
<span class="t g" style="top:775px;font-size:16.4px;line-height:18px;height:18px;left:859.60px;transform:scaleX(0.89);">00</span>
<span class="t g" style="top:775px;font-size:16.4px;line-height:18px;height:18px;left:946.40px;transform:scaleX(0.87);">0</span>
<span class="t k" style="top:775px;font-size:16.4px;line-height:18px;height:18px;left:957.50px;transform:scaleX(0.918);">6077009001</span>
<span class="t g" style="top:775px;font-size:16.4px;line-height:18px;height:18px;left:1044.10px;transform:scaleX(0.89);">00</span>
<span class="t b" style="top:801px;font-size:15.9px;line-height:17px;height:17px;left:32.01px;">10</span>
<span class="t l" style="top:800px;font-size:16.4px;line-height:18px;height:18px;left:107.63px;transform:scaleX(0.93);">10</span>
<span class="t l" style="top:800px;font-size:16.4px;line-height:18px;height:18px;left:180.93px;transform:scaleX(0.93);">72</span>
<span class="t l" style="top:800px;font-size:16.4px;line-height:18px;height:18px;left:254.33px;transform:scaleX(0.93);">22</span>
<span class="t l" style="top:800px;font-size:16.4px;line-height:18px;height:18px;left:319.00px;transform:scaleX(0.93);">0,15</span>
<span class="t l" style="top:800px;font-size:16.4px;line-height:18px;height:18px;left:393.00px;transform:scaleX(0.93);">4</span>
<span class="t g" style="top:800px;font-size:16.4px;line-height:18px;height:18px;left:761.60px;transform:scaleX(0.87);">0</span>
<span class="t k" style="top:800px;font-size:16.4px;line-height:18px;height:18px;left:773.00px;transform:scaleX(0.918);">6075010001</span>
<span class="t g" style="top:800px;font-size:16.4px;line-height:18px;height:18px;left:859.60px;transform:scaleX(0.89);">00</span>
<span class="t g" style="top:800px;font-size:16.4px;line-height:18px;height:18px;left:946.40px;transform:scaleX(0.87);">0</span>
<span class="t k" style="top:800px;font-size:16.4px;line-height:18px;height:18px;left:957.50px;transform:scaleX(0.918);">6077010001</span>
<span class="t g" style="top:800px;font-size:16.4px;line-height:18px;height:18px;left:1044.10px;transform:scaleX(0.89);">00</span>
<span class="t b" style="top:827px;font-size:15.9px;line-height:17px;height:17px;left:32.01px;">12</span>
<span class="t l" style="top:826px;font-size:16.4px;line-height:18px;height:18px;left:107.63px;transform:scaleX(0.93);">12</span>
<span class="t l" style="top:826px;font-size:16.4px;line-height:18px;height:18px;left:180.93px;transform:scaleX(0.93);">73</span>
<span class="t l" style="top:826px;font-size:16.4px;line-height:18px;height:18px;left:254.33px;transform:scaleX(0.93);">22</span>
<span class="t l" style="top:826px;font-size:16.4px;line-height:18px;height:18px;left:319.00px;transform:scaleX(0.93);">0,15</span>
<span class="t l" style="top:826px;font-size:16.4px;line-height:18px;height:18px;left:393.00px;transform:scaleX(0.93);">4</span>
<span class="t g" style="top:826px;font-size:16.4px;line-height:18px;height:18px;left:761.60px;transform:scaleX(0.87);">0</span>
<span class="t k" style="top:826px;font-size:16.4px;line-height:18px;height:18px;left:773.00px;transform:scaleX(0.918);">6075012001</span>
<span class="t g" style="top:826px;font-size:16.4px;line-height:18px;height:18px;left:859.60px;transform:scaleX(0.89);">00</span>
<span class="t g" style="top:826px;font-size:16.4px;line-height:18px;height:18px;left:946.40px;transform:scaleX(0.87);">0</span>
<span class="t k" style="top:826px;font-size:16.4px;line-height:18px;height:18px;left:957.50px;transform:scaleX(0.918);">6077012001</span>
<span class="t g" style="top:826px;font-size:16.4px;line-height:18px;height:18px;left:1044.10px;transform:scaleX(0.89);">00</span>
<span class="t b" style="top:853px;font-size:15.9px;line-height:17px;height:17px;left:32.01px;">14</span>
<span class="t l" style="top:852px;font-size:16.4px;line-height:18px;height:18px;left:107.63px;transform:scaleX(0.93);">14</span>
<span class="t l" style="top:852px;font-size:16.4px;line-height:18px;height:18px;left:180.93px;transform:scaleX(0.93);">75</span>
<span class="t l" style="top:852px;font-size:16.4px;line-height:18px;height:18px;left:254.33px;transform:scaleX(0.93);">25</span>
<span class="t l" style="top:852px;font-size:16.4px;line-height:18px;height:18px;left:319.00px;transform:scaleX(0.93);">0,20</span>
<span class="t l" style="top:852px;font-size:16.4px;line-height:18px;height:18px;left:393.00px;transform:scaleX(0.93);">4</span>
<span class="t g" style="top:852px;font-size:16.4px;line-height:18px;height:18px;left:761.60px;transform:scaleX(0.87);">0</span>
<span class="t k" style="top:852px;font-size:16.4px;line-height:18px;height:18px;left:773.00px;transform:scaleX(0.918);">6075014001</span>
<span class="t g" style="top:852px;font-size:16.4px;line-height:18px;height:18px;left:859.60px;transform:scaleX(0.89);">00</span>
<span class="t g" style="top:852px;font-size:16.4px;line-height:18px;height:18px;left:946.40px;transform:scaleX(0.87);">0</span>
<span class="t k" style="top:852px;font-size:16.4px;line-height:18px;height:18px;left:957.50px;transform:scaleX(0.918);">6077014001</span>
<span class="t g" style="top:852px;font-size:16.4px;line-height:18px;height:18px;left:1044.10px;transform:scaleX(0.89);">00</span>
<span class="t b" style="top:879px;font-size:15.9px;line-height:17px;height:17px;left:32.01px;">16</span>
<span class="t l" style="top:878px;font-size:16.4px;line-height:18px;height:18px;left:107.63px;transform:scaleX(0.93);">16</span>
<span class="t l" style="top:878px;font-size:16.4px;line-height:18px;height:18px;left:180.93px;transform:scaleX(0.93);">82</span>
<span class="t l" style="top:878px;font-size:16.4px;line-height:18px;height:18px;left:254.33px;transform:scaleX(0.93);">28</span>
<span class="t l" style="top:878px;font-size:16.4px;line-height:18px;height:18px;left:319.00px;transform:scaleX(0.93);">0,20</span>
<span class="t l" style="top:878px;font-size:16.4px;line-height:18px;height:18px;left:393.00px;transform:scaleX(0.93);">4</span>
<span class="t g" style="top:878px;font-size:16.4px;line-height:18px;height:18px;left:761.60px;transform:scaleX(0.87);">0</span>
<span class="t k" style="top:878px;font-size:16.4px;line-height:18px;height:18px;left:773.00px;transform:scaleX(0.918);">6075016001</span>
<span class="t g" style="top:878px;font-size:16.4px;line-height:18px;height:18px;left:859.60px;transform:scaleX(0.89);">00</span>
<span class="t g" style="top:878px;font-size:16.4px;line-height:18px;height:18px;left:946.40px;transform:scaleX(0.87);">0</span>
<span class="t k" style="top:878px;font-size:16.4px;line-height:18px;height:18px;left:957.50px;transform:scaleX(0.918);">6077016001</span>
<span class="t g" style="top:878px;font-size:16.4px;line-height:18px;height:18px;left:1044.10px;transform:scaleX(0.89);">00</span>
<span class="t b" style="top:905px;font-size:15.9px;line-height:17px;height:17px;left:32.01px;">18</span>
<span class="t l" style="top:904px;font-size:16.4px;line-height:18px;height:18px;left:107.63px;transform:scaleX(0.93);">18</span>
<span class="t l" style="top:904px;font-size:16.4px;line-height:18px;height:18px;left:180.93px;transform:scaleX(0.93);">84</span>
<span class="t l" style="top:904px;font-size:16.4px;line-height:18px;height:18px;left:254.33px;transform:scaleX(0.93);">28</span>
<span class="t l" style="top:904px;font-size:16.4px;line-height:18px;height:18px;left:319.00px;transform:scaleX(0.93);">0,20</span>
<span class="t l" style="top:904px;font-size:16.4px;line-height:18px;height:18px;left:393.00px;transform:scaleX(0.93);">4</span>
<span class="t g" style="top:904px;font-size:16.4px;line-height:18px;height:18px;left:761.60px;transform:scaleX(0.87);">0</span>
<span class="t k" style="top:904px;font-size:16.4px;line-height:18px;height:18px;left:773.00px;transform:scaleX(0.918);">6075018001</span>
<span class="t g" style="top:904px;font-size:16.4px;line-height:18px;height:18px;left:859.60px;transform:scaleX(0.89);">00</span>
<span class="t g" style="top:904px;font-size:16.4px;line-height:18px;height:18px;left:946.40px;transform:scaleX(0.87);">0</span>
<span class="t k" style="top:904px;font-size:16.4px;line-height:18px;height:18px;left:957.50px;transform:scaleX(0.918);">6077018001</span>
<span class="t g" style="top:904px;font-size:16.4px;line-height:18px;height:18px;left:1044.10px;transform:scaleX(0.89);">00</span>
<span class="t b" style="top:931px;font-size:15.9px;line-height:17px;height:17px;left:32.01px;">20</span>
<span class="t l" style="top:930px;font-size:16.4px;line-height:18px;height:18px;left:107.63px;transform:scaleX(0.93);">20</span>
<span class="t l" style="top:930px;font-size:16.4px;line-height:18px;height:18px;left:172.45px;transform:scaleX(0.93);">104</span>
<span class="t l" style="top:930px;font-size:16.4px;line-height:18px;height:18px;left:254.33px;transform:scaleX(0.93);">35</span>
<span class="t l" style="top:930px;font-size:16.4px;line-height:18px;height:18px;left:319.00px;transform:scaleX(0.93);">0,25</span>
<span class="t l" style="top:930px;font-size:16.4px;line-height:18px;height:18px;left:393.00px;transform:scaleX(0.93);">4</span>
<span class="t g" style="top:930px;font-size:16.4px;line-height:18px;height:18px;left:761.60px;transform:scaleX(0.87);">0</span>
<span class="t k" style="top:930px;font-size:16.4px;line-height:18px;height:18px;left:773.00px;transform:scaleX(0.918);">6075020001</span>
<span class="t g" style="top:930px;font-size:16.4px;line-height:18px;height:18px;left:859.60px;transform:scaleX(0.89);">00</span>
<span class="t g" style="top:930px;font-size:16.4px;line-height:18px;height:18px;left:946.40px;transform:scaleX(0.87);">0</span>
<span class="t k" style="top:930px;font-size:16.4px;line-height:18px;height:18px;left:957.50px;transform:scaleX(0.918);">6077020001</span>
<span class="t g" style="top:930px;font-size:16.4px;line-height:18px;height:18px;left:1044.10px;transform:scaleX(0.89);">00</span>
<svg style="left:0;top:0" width="1153" height="961" viewBox="0 0 1153 961"><g stroke="#222"><line x1="387.65" x2="387.65" y1="0" y2="356.4" stroke-width="1.3" stroke-linecap="round"/><line x1="754.55" x2="754.55" y1="0" y2="952" stroke-width="1.12"/><line x1="940.55" x2="940.55" y1="0" y2="952" stroke-width="1.12"/></g></svg>
</body></html>
